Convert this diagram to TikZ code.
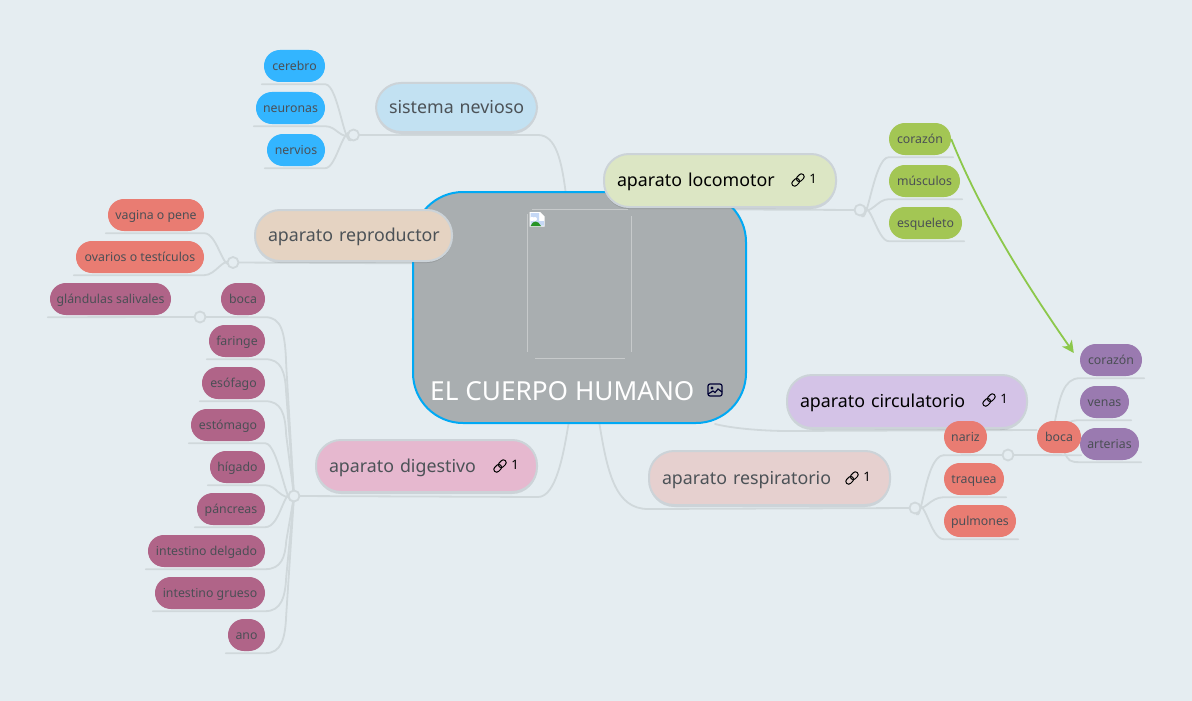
\documentclass[tikz,border=0pt]{standalone}
\usepackage{fontspec}
\setmainfont{Noto Sans}
\usetikzlibrary{arrows.meta,calc,shadows}
\definecolor{bgc}{HTML}{E5EDF1}
\definecolor{lnc}{HTML}{D0D8DB}
\definecolor{brd}{HTML}{CCD3D8}
\definecolor{cfill}{HTML}{A9AEB0}
\definecolor{cblue}{HTML}{00A9F4}
\definecolor{tdark}{HTML}{4C5257}
\definecolor{leaftxt}{HTML}{4B4F55}
\definecolor{fsis}{HTML}{C2E1F2}
\definecolor{floc}{HTML}{DCE6C4}
\definecolor{frep}{HTML}{E5D3C2}
\definecolor{fdig}{HTML}{E6B8CF}
\definecolor{fcir}{HTML}{D4C3E7}
\definecolor{fres}{HTML}{E6D0CF}
\definecolor{lblue}{HTML}{33B5FF}
\definecolor{lgreen}{HTML}{A3C654}
\definecolor{lred}{HTML}{E97C72}
\definecolor{lmag}{HTML}{B06488}
\definecolor{lpur}{HTML}{9A7AB0}
\definecolor{arrowc}{HTML}{8CC84B}
\definecolor{icsky}{HTML}{C5D8F5}
\pgfdeclarelayer{back}
\pgfdeclarelayer{wires}
\pgfsetlayers{back,wires,main}
\tikzset{
  conn/.style={draw=lnc,line width=1.8pt,line cap=round},
  junc/.style={circle,draw=lnc,fill=bgc,line width=1.8pt,minimum size=11pt,inner sep=0pt},
  leafbox/.style={rounded corners=15.9pt,inner sep=0pt,text=leaftxt,font=\fontsize{12.3}{14}\selectfont,text height=9.5pt,text depth=1pt,align=center},
  branch/.style={rounded corners=25pt,draw=brd,line width=2pt,inner sep=0pt,text=tdark,font=\fontsize{17.8}{21}\selectfont,text height=13pt,text depth=1pt,align=left,drop shadow={shadow xshift=0pt,shadow yshift=-2pt,fill=black,opacity=.10}},
  linkico/.style={draw=#1,line width=1pt,rounded corners=2.6pt},
  cnt/.style={font=\fontsize{13}{15}\selectfont,inner sep=0pt}
}
\newcommand\lfbox[6]{% name colour x1 y1 x2 y2 / text next
  \pgfmathsetmacro\bw{#5-#3}\pgfmathsetmacro\bh{#6-#4}
  \pgfmathsetmacro\bx{(#3+#5)/2}\pgfmathsetmacro\by{(#4+#6)/2}
  \node[leafbox,fill=#2,minimum width=\bw pt,minimum height=\bh pt] (#1) at (\bx,\by)}
\newcommand\brbox[6]{%
  \pgfmathsetmacro\bw{#5-#3}\pgfmathsetmacro\bh{#6-#4}\pgfmathsetmacro\tw{#5-#3-26}
  \pgfmathsetmacro\bx{(#3+#5)/2}\pgfmathsetmacro\by{(#4+#6)/2}
  \node[branch,fill=#2,minimum width=\bw pt,minimum height=\bh pt,text width=\tw pt] (#1) at (\bx,\by)}
% left leaf wire: child junction dx cx cy
\newcommand\wireL[5]{\draw[conn] ([shift={(-2pt,-2pt)}]#1.south west) -- ([yshift=-2pt]#1.south east) .. controls ([shift={(#3pt,-2pt)}]#1.south east) and ([shift={(#4pt,#5pt)}]#2.center) .. (#2.center);}
% right leaf wire: child junction dx cx cy
\newcommand\wireR[5]{\draw[conn] ([shift={(2pt,-2pt)}]#1.south east) -- ([yshift=-2pt]#1.south west) .. controls ([shift={(-#3pt,-2pt)}]#1.south west) and ([shift={(#4pt,#5pt)}]#2.center) .. (#2.center);}
% tall fan wire, corner then nearly straight: child junction c2y endy (pt, negative = down)
\newcommand\wireF[4]{\draw[conn] ([shift={(-2pt,-2pt)}]#1.south west) -- ([yshift=-2pt]#1.south east) .. controls ([shift={(16pt,-2pt)}]#1.south east) and ([shift={(20pt,#3pt)}]#1.south east) .. ([shift={(21pt,#4pt)}]#1.south east) -- (#2.center);}
\newcommand\lnk[3]{\begin{scope}[shift={(#1,#2)},rotate=45]
  \draw[linkico=#3] (-7.5,-2.8) rectangle (1,2.8);
  \draw[linkico=#3] (-1,-2.8) rectangle (7.5,2.8);
\end{scope}}
\begin{document}
\begin{tikzpicture}[x=1pt,y=-1pt]
\begin{pgfonlayer}{back}
\fill[bgc] (0,0) rectangle (1192,701);
\end{pgfonlayer}
\useasboundingbox (0,0) rectangle (1192,701);

% centre
\node[draw=cblue,fill=cfill,line width=2pt,rounded corners=50pt,minimum width=333pt,minimum height=231pt,inner sep=0pt] (cn) at (579.5,307.5) {};
\node[anchor=west,inner sep=0pt,text=white,font=\fontsize{26.2}{30}\selectfont] (cntitle) at (430,391) {EL CUERPO HUMANO};
% broken image frame
\draw[white,opacity=.35,line width=.8pt] (527.5,214) -- (527.5,352) (631.5,216) -- (631.5,352) (532,209.5) -- (628,209.5) (535,358.5) -- (625,358.5);
\fill[white] (529.5,212) -- (540,212) -- (544.5,216.5) -- (544.5,226.5) -- (529.5,226.5) -- cycle;
\fill[icsky] (530.5,213) rectangle (539,221) (530.5,221) rectangle (544,225.5);
\fill[white] (532,219) circle (2.2) (535,219) circle (2);
\fill[green!50!black!85!white] (530.5,226) .. controls (533,220) and (538,220) .. (541,226) -- cycle;
% picture icon
\begin{scope}[shift={(715,390)}]
\draw[draw=black!80!blue,line width=1.2pt,rounded corners=2pt] (-7,-6) rectangle (7,6);
\fill[black!80!blue] (-3,-2) circle (1.6);
\draw[black!80!blue,line width=1.2pt] (-7,4) -- (-2,1) -- (0,2.5) -- (3,-1) -- (7,2);
\end{scope}

% branches
\brbox{sis}{fsis}{376}{83}{537}{132} {\mbox{sistema nevioso}};
\brbox{loc}{floc}{604}{154}{836}{207} {\mbox{\color{black}aparato locomotor}};
\brbox{rep}{frep}{255}{210}{452}{261} {\mbox{aparato reproductor}};
\brbox{dig}{fdig}{316}{440}{537}{492} {\mbox{aparato digestivo}};
\brbox{cir}{fcir}{787}{375}{1027}{428} {\mbox{\color{black}aparato circulatorio}};
\brbox{res}{fres}{649}{451}{890}{505} {\mbox{aparato respiratorio}};

\lnk{798}{180}{black}\node[cnt,text=black] (n1) at (813,179) {1};
\lnk{989}{400}{black}\node[cnt,text=black] (n2) at (1004,399) {1};
\lnk{852}{478}{black}\node[cnt,text=black] (n3) at (867,477) {1};
\lnk{500}{466}{black}\node[cnt,text=black] (n4) at (515,465) {1};

% leaves
\lfbox{cer}{lblue}{264}{50}{325}{82} {cerebro};
\lfbox{neu}{lblue}{256}{92}{325}{124} {neuronas};
\lfbox{ner}{lblue}{267}{134}{325}{166} {nervios};
\lfbox{cora}{lgreen}{889}{123}{951}{155} {corazón};
\lfbox{mus}{lgreen}{889}{165}{960}{197} {músculos};
\lfbox{esq}{lgreen}{889}{207}{962}{239} {esqueleto};
\lfbox{vag}{lred}{108}{199}{204}{231} {vagina o pene};
\lfbox{ova}{lred}{76}{241}{204}{273} {ovarios o testículos};
\lfbox{gla}{lmag}{50}{283}{171}{315} {glándulas salivales};
\lfbox{bocd}{lmag}{221}{283}{265}{315} {boca};
\lfbox{far}{lmag}{209}{325}{265}{357} {faringe};
\lfbox{eso}{lmag}{202}{367}{265}{399} {esófago};
\lfbox{est}{lmag}{191}{409}{265}{441} {estómago};
\lfbox{hig}{lmag}{210}{451}{265}{483} {hígado};
\lfbox{pan}{lmag}{197}{493}{265}{525} {páncreas};
\lfbox{ind}{lmag}{148}{535}{265}{567} {intestino delgado};
\lfbox{ing}{lmag}{155}{577}{265}{609} {intestino grueso};
\lfbox{ano}{lmag}{228}{619}{265}{651} {ano};
\lfbox{cor}{lpur}{1080}{344}{1142}{376} {corazón};
\lfbox{ven}{lpur}{1080}{386}{1129}{418} {venas};
\lfbox{art}{lpur}{1080}{428}{1139}{460} {arterias};
\lfbox{nar}{lred}{944}{421}{987}{453} {nariz};
\lfbox{tra}{lred}{944}{463}{1004}{495} {traquea};
\lfbox{pul}{lred}{944}{505}{1016}{537} {pulmones};
\lfbox{boc}{lred}{1037}{421}{1081}{453} {boca};

% junctions
\node[junc] (j1) at (353.5,135) {};
\node[junc] (j2) at (860,210) {};
\node[junc] (j3) at (233,262.5) {};
\node[junc] (j4) at (200,317) {};
\node[junc] (j5) at (294,496) {};
\node[junc] (j6) at (915,508) {};
\node[junc] (j7) at (1008,455) {};

\begin{pgfonlayer}{wires}
% main branches
\draw[conn] (j1.center) -- ([yshift=-2pt]sis.south east) .. controls ([shift={(18pt,-2pt)}]sis.south east) and ([shift={(-18pt,30pt)}]cn.north) .. ([xshift=-14pt]cn.north);
\draw[conn] ([shift={(40pt,-18pt)}]cn.north) -- (j2.center);
\draw[conn] (j3.center) -- ([yshift=-1.5pt]rep.south east) -- ([shift={(0pt,-12pt)}]cn.west);
\draw[conn] (j5.center) -- ([yshift=-4pt]dig.south east) .. controls ([shift={(18pt,-4pt)}]dig.south east) and ([shift={(-16pt,-30pt)}]cn.south) .. ([xshift=-11pt]cn.south);
\draw[conn] ([xshift=20pt]cn.south) .. controls ([shift={(28pt,-50pt)}]cn.south) and ([shift={(-32pt,-3pt)}]res.south west) .. ([yshift=-3pt]res.south west) -- (j6.center);
\draw[conn] ([xshift=-32pt]cn.south east) .. controls ([shift={(-8pt,-6pt)}]cn.south east) and ([shift={(-10pt,-2pt)}]cir.south west) .. ([yshift=-2pt]cir.south west) -- ([yshift=7pt]boc.west);
% sistema nervioso
\wireL{cer}{j1}{14}{-8}{-26}
\wireL{neu}{j1}{12}{-14}{-5}
\wireL{ner}{j1}{12}{-10}{14}
% locomotor
\wireR{cora}{j2}{16}{6}{-30}
\wireR{mus}{j2}{12}{12}{-5}
\wireR{esq}{j2}{12}{10}{14}
% reproductor
\wireL{vag}{j3}{14}{-10}{-12}
\wireL{ova}{j3}{12}{-10}{6}
% digestivo
\draw[conn] ([shift={(-2pt,-2pt)}]gla.south west) -- (j4.center);
\draw[conn] (j4.center) -- ([yshift=-2pt]bocd.south east) .. controls ([shift={(16pt,-2pt)}]bocd.south east) and ([shift={(20pt,-16pt)}]bocd.south east) .. ([shift={(21pt,-50pt)}]bocd.south east) -- (j5.center);
\wireF{far}{j5}{-14}{-36}
\wireF{eso}{j5}{-14}{-36}
\wireL{est}{j5}{14}{-6}{-24}
\wireL{hig}{j5}{12}{-14}{-5}
\wireL{pan}{j5}{16}{-10}{12}
\wireF{ind}{j5}{10}{26}
\wireF{ing}{j5}{12}{32}
\wireF{ano}{j5}{12}{36}
% respiratorio
\draw[conn] ([yshift=-2pt]nar.south west) .. controls ([shift={(-20pt,-2pt)}]nar.south west) and ([shift={(6pt,-30pt)}]j6.center) .. (j6.center);
\draw[conn] ([yshift=-2pt]nar.south west) -- (j7.center) -- ([shift={(0pt,-2pt)}]boc.south east);
\wireR{tra}{j6}{14}{10}{-4}
\wireR{pul}{j6}{14}{10}{14}
% boca children
\draw[conn] ([xshift=-4pt]boc.north) .. controls ([shift={(1pt,24pt)}]boc.north) and ([shift={(-16pt,-2pt)}]cor.south west) .. ([yshift=-2pt]cor.south west) -- ([shift={(2pt,-2pt)}]cor.south east);
\draw[conn] (boc.center) .. controls ([shift={(4pt,14pt)}]boc.center) and ([shift={(-10pt,-2pt)}]ven.south west) .. ([yshift=-2pt]ven.south west) -- ([shift={(2pt,-2pt)}]ven.south east);
\draw[conn] ([xshift=6pt]boc.south) .. controls ([shift={(9pt,-7pt)}]boc.south) and ([shift={(-10pt,-2pt)}]art.south west) .. ([yshift=-2pt]art.south west) -- ([shift={(2pt,-2pt)}]art.south east);
\end{pgfonlayer}
% relation arrow
\draw[arrowc,line width=1.8pt,-{Stealth[length=12pt,width=12pt,inset=3.5pt]}] (cora.east) .. controls ([shift={(30pt,-75pt)}]cora.east) and ([shift={(-50pt,70pt)}]cor.west) .. ([shift={(-6pt,7pt)}]cor.west);
\end{tikzpicture}
\end{document}
